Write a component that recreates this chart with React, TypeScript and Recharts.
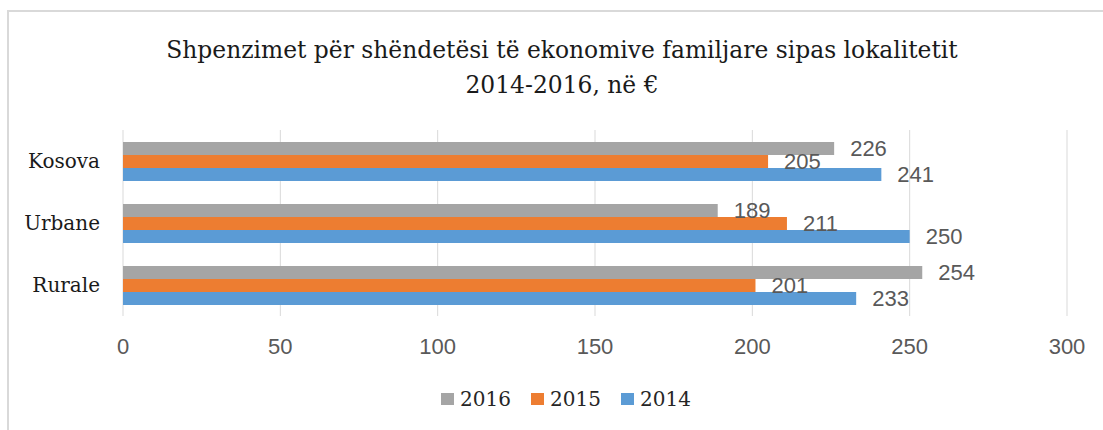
import React from 'react'
import {
  BarChart,
  Bar,
  XAxis,
  YAxis,
  CartesianGrid,
  Legend,
  LabelList,
} from 'recharts'

// vlerat e lexuara nga grafiku
const categories = ['Kosova', 'Urbane', 'Rurale']
const values2016 = [226, 189, 254]
const values2015 = [205, 211, 201]
const values2014 = [241, 250, 233]
const xTicks = [0, 50, 100, 150, 200, 250, 300]

const series = [
  { key: '2016', color: '#A5A5A5' },
  { key: '2015', color: '#ED7D31' },
  { key: '2014', color: '#5B9BD5' },
]

const data = categories.map((name, i) => ({
  name,
  '2016': values2016[i],
  '2015': values2015[i],
  '2014': values2014[i],
}))

const SERIF = '"DejaVu Serif", serif'
const SANS = '"Liberation Sans", Arial, sans-serif'

function LegendContent() {
  return (
    <div style={{ display: 'flex', height: 24, alignItems: 'center' }}>
      {series.map((s) => (
        <div
          key={s.key}
          style={{ display: 'flex', alignItems: 'center', width: 90 }}
        >
          <span
            style={{
              width: 13,
              height: 12,
              background: s.color,
              display: 'inline-block',
              marginRight: 6,
            }}
          />
          <span
            style={{
              fontFamily: SERIF,
              fontSize: 20,
              color: '#262626',
              lineHeight: '24px',
            }}
          >
            {s.key}
          </span>
        </div>
      ))}
    </div>
  )
}

export default function App() {
  return (
    <div
      style={{
        position: 'absolute',
        left: 0,
        top: 0,
        width: 1103,
        height: 430,
        background: '#fff',
        overflow: 'hidden',
      }}
    >
      <div
        style={{
          position: 'absolute',
          left: 7,
          top: 10,
          width: 1096,
          height: 420,
          borderLeft: '2px solid #D9D9D9',
          borderTop: '2px solid #D9D9D9',
          boxSizing: 'border-box',
        }}
      />
      <div
        style={{
          position: 'absolute',
          left: 62,
          top: 33,
          width: 1000,
          textAlign: 'center',
          fontFamily: SERIF,
          fontSize: 23.4,
          lineHeight: '35px',
          color: '#1a1a1a',
        }}
      >
        Shpenzimet për shëndetësi të ekonomive familjare sipas lokalitetit
        <br />
        2014-2016, në €
      </div>
      <div style={{ position: 'absolute', left: 0, top: 0 }}>
        <BarChart
          width={1103}
          height={430}
          data={data}
          layout="vertical"
          margin={{ top: 130, right: 36, bottom: 84, left: 0 }}
          barCategoryGap={12}
          barGap={0}
        >
          <CartesianGrid horizontal={false} stroke="#D9D9D9" />
          <XAxis
            type="number"
            domain={[0, 300]}
            ticks={xTicks}
            axisLine={false}
            tickLine={false}
            tickSize={0}
            tickMargin={22}
            height={30}
            tick={{ fill: '#595959', fontSize: 22, fontFamily: SANS }}
          />
          <YAxis
            type="category"
            dataKey="name"
            width={123}
            axisLine={false}
            tickLine={false}
            tickSize={0}
            tickMargin={23}
            tick={{ fill: '#1a1a1a', fontSize: 20, fontFamily: SERIF }}
          />
          <Legend
            layout="horizontal"
            verticalAlign="middle"
            align="center"
            content={<LegendContent />}
            wrapperStyle={{ left: 441, top: 387, width: 300 }}
          />
          {series.map((s) => (
            <Bar
              key={s.key}
              dataKey={s.key}
              fill={s.color}
              isAnimationActive={false}
            >
              <LabelList
                dataKey={s.key}
                position="right"
                offset={16}
                fill="#595959"
                fontSize={22}
                fontFamily={SANS}
              />
            </Bar>
          ))}
        </BarChart>
      </div>
    </div>
  )
}
